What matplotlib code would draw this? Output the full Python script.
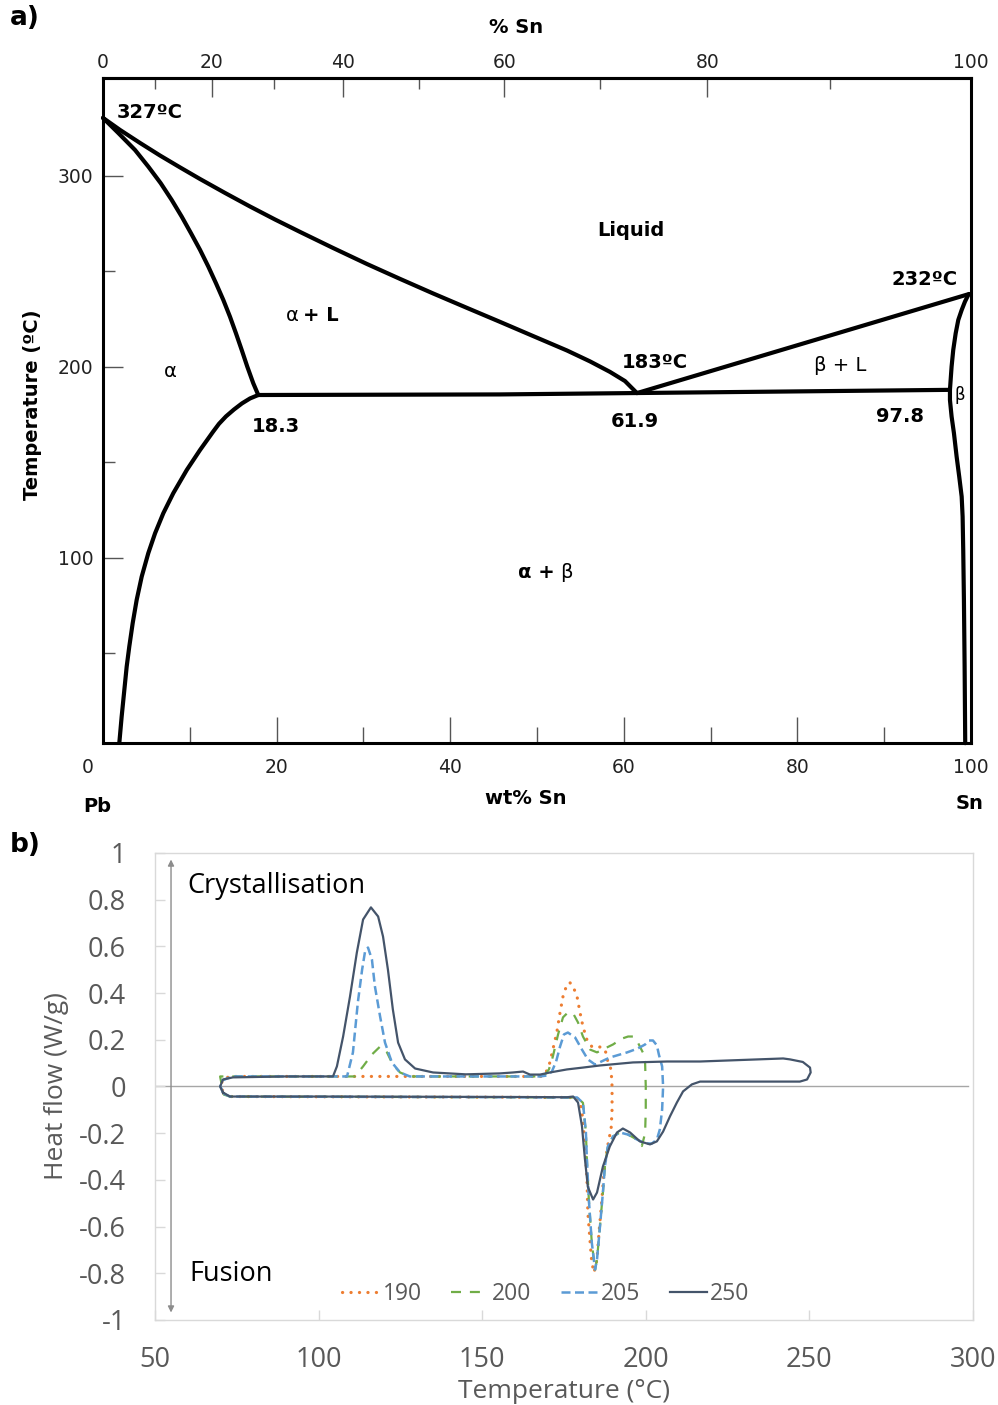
import numpy as np
import matplotlib.pyplot as plt
from matplotlib.ticker import FixedLocator

# ---------------- a) Pb-Sn phase diagram (wt% Sn, temperature in C) ----------------
liq_pb_wt = [0.0, 1.96, 4.26, 6.57, 8.87, 11.18, 14.06, 16.94, 19.82, 22.70, 26.50, 30.41,
             34.22, 38.02, 41.94, 45.74, 49.54, 53.46, 56.11, 58.41, 60.14, 61.52]
liq_pb_T = [330.4, 324.1, 317.3, 310.7, 304.5, 298.4, 291.1, 284.0, 277.2, 270.7, 262.3, 253.9,
            246.1, 238.5, 230.9, 223.6, 216.2, 208.6, 202.9, 197.4, 192.6, 186.3]

sol_pb_wt = [0.0, 1.76, 3.69, 5.22, 6.65, 7.92, 9.07, 10.14, 11.18, 12.14, 13.02, 13.86,
             14.63, 15.32, 15.98, 16.62, 17.31, 17.89]
sol_pb_T = [330.4, 322.5, 313.6, 304.9, 296.2, 287.4, 278.7, 270.0, 261.3, 252.5, 243.8, 235.1,
            226.3, 217.6, 208.9, 200.2, 191.5, 185.3]

solv_pb_wt = [17.89, 16.94, 16.01, 15.09, 14.17, 13.36, 12.67, 11.18, 9.66, 8.10, 6.95, 6.0,
              5.22, 4.46, 3.88, 3.42, 3.03, 2.73, 2.42, 2.15, 1.88]
solv_pb_T = [185.3, 183.5, 180.9, 177.7, 174.1, 170.2, 166.0, 156.5, 146.1, 133.9, 123.4, 112.9,
             102.5, 90.2, 78.0, 65.8, 53.6, 43.1, 29.1, 16.9, 3.1]

eut_wt = [17.89, 45.7, 97.58]
eut_T = [185.3, 185.6, 188.0]

liq_sn_wt = [61.52, 99.8]
liq_sn_T = [186.3, 238.2]

sol_sn_wt = [99.8, 99.69, 99.31, 98.93, 98.54, 98.24, 97.96, 97.77, 97.66, 97.58]
sol_sn_T = [238.2, 237.7, 234.2, 229.8, 224.6, 217.6, 208.9, 200.2, 193.2, 188.0]

solv_sn_wt = [97.58, 97.58, 97.77, 98.04, 98.35, 98.65, 98.93, 99.04, 99.11, 99.19, 99.27, 99.34]
solv_sn_T = [188.0, 182.7, 174.0, 165.3, 153.0, 142.5, 132.1, 121.6, 104.2, 78.0, 43.1, 3.0]

wt_major = [20, 40, 60, 80, 100]
wt_minor = [10, 30, 50, 70, 90]
at_major = [0, 20, 40, 60, 80, 100]
at_minor = [10, 30, 50, 70, 90]
T_major = [100, 200, 300]
T_minor = [50, 150, 250]

# ---------------- b) DSC loops (temperature C, heat flow W/g) ----------------
T_190 = [71.0, 72.9, 100, 130, 160, 176, 179.0, 179.9, 180.8, 181.4, 182.0, 182.3, 183.0,
         183.5, 184.2, 185.1, 185.7, 186.6, 187.2, 188.1, 188.7, 189.4, 189.7, 189.7, 189.4,
         188.4, 187.8, 186.9, 185.1, 183.5, 182.0, 180.8, 179.9, 179.0, 177.8, 176.8, 175.9,
         174.7, 173.8, 172.8, 171.6, 170.7, 169.5, 168.3, 150, 120, 95, 72.9, 70.6, 70.2, 71.0]
hf_190 = [-0.030, -0.043, -0.044, -0.045, -0.046, -0.047, -0.048, -0.064, -0.141, -0.257,
          -0.385, -0.540, -0.668, -0.754, -0.797, -0.740, -0.625, -0.484, -0.368, -0.278,
          -0.227, -0.184, -0.099, 0.0, 0.073, 0.107, 0.146, 0.167, 0.171, 0.171, 0.201,
          0.257, 0.317, 0.385, 0.428, 0.445, 0.437, 0.385, 0.317, 0.231, 0.158, 0.103, 0.060,
          0.043, 0.043, 0.043, 0.043, 0.043, 0.030, 0.0, -0.030]

T_200 = [70.9, 72.9, 100, 130, 160, 176, 179.0, 180.8, 181.7, 182.0, 182.6, 183.5, 184.5,
         185.1, 186.0, 186.9, 187.5, 188.4, 190.0, 192.1, 194.6, 197.3, 198.8, 199.8, 200.0,
         200.0, 199.8, 199.1, 197.6, 196.1, 194.6, 192.7, 190.0, 187.5, 185.1, 183.0, 180.8,
         179.3, 177.8, 176.2, 174.7, 173.2, 171.6, 170.4, 169.2, 167.7, 150, 127.9, 124.9,
         122.7, 120.9, 118.8, 116.3, 113.6, 111.1, 95, 73.8, 69.9, 70.5, 70.9]
hf_200 = [-0.034, -0.043, -0.044, -0.045, -0.046, -0.047, -0.047, -0.070, -0.197, -0.310,
          -0.484, -0.668, -0.784, -0.740, -0.600, -0.454, -0.343, -0.257, -0.214, -0.197,
          -0.206, -0.227, -0.255, -0.200, -0.100, 0.0, 0.100, 0.146, 0.188, 0.214, 0.214,
          0.205, 0.180, 0.163, 0.146, 0.158, 0.214, 0.274, 0.313, 0.317, 0.296, 0.223, 0.128,
          0.073, 0.051, 0.043, 0.043, 0.043, 0.060, 0.094, 0.146, 0.171, 0.137, 0.086, 0.043,
          0.043, 0.043, 0.043, 0.0, -0.034]

T_205 = [70.9, 72.9, 100, 130, 160, 176, 179.0, 180.8, 181.7, 182.0, 182.6, 183.5, 184.5,
         185.1, 186.0, 186.9, 187.5, 188.4, 190.0, 192.1, 194.6, 197.3, 199.8, 201.9, 203.4,
         204.3, 205.0, 205.3, 205.0, 204.0, 203.4, 202.2, 201.0, 199.8, 197.6, 194.3, 189.0,
         184.5, 182.3, 180.5, 178.4, 176.2, 175.0, 173.8, 172.6, 171.3, 169.8, 167.7, 150,
         127.9, 124.9, 122.4, 120.3, 118.8, 117.2, 116.3, 115.1, 114.2, 113.3, 112.0, 110.5,
         108.7, 95, 73.8, 70.3, 70.0, 70.9]
hf_205 = [-0.030, -0.043, -0.044, -0.045, -0.046, -0.047, -0.047, -0.070, -0.197, -0.310,
          -0.484, -0.668, -0.784, -0.740, -0.600, -0.454, -0.343, -0.257, -0.214, -0.197,
          -0.206, -0.227, -0.244, -0.244, -0.227, -0.184, -0.099, 0.0, 0.086, 0.137, 0.176,
          0.197, 0.197, 0.180, 0.163, 0.146, 0.124, 0.094, 0.116, 0.158, 0.210, 0.231, 0.223,
          0.171, 0.107, 0.064, 0.047, 0.043, 0.043, 0.043, 0.060, 0.103, 0.188, 0.300, 0.430,
          0.544, 0.595, 0.578, 0.500, 0.360, 0.146, 0.043, 0.043, 0.043, 0.025, 0.0, -0.030]

T_250 = [70.8, 72.9, 100, 130, 160, 176, 177.8, 179.3, 180.5, 181.4, 182.3, 183.9, 185.1,
         186.9, 189.0, 191.2, 193.0, 195.2, 198.2, 201.3, 203.4, 205.3, 207.4, 209.5, 211.4,
         214.1, 216.6, 230, 247.1, 249.3, 250.4, 250.2, 248.0, 244.1, 242.0, 216.6, 206.5,
         196.1, 186.0, 180.8, 175.9, 170.7, 167.7, 164.6, 162.5, 159.4, 155.4, 145, 135.0,
         129.5, 126.4, 124.3, 122.7, 121.2, 119.7, 118.2, 116.0, 113.6, 111.7, 109.6, 107.5,
         105.6, 104.4, 90, 73.8, 70.8, 69.9, 70.8]
hf_250 = [-0.026, -0.043, -0.043, -0.044, -0.045, -0.046, -0.043, -0.069, -0.170, -0.310,
          -0.430, -0.484, -0.454, -0.343, -0.257, -0.197, -0.180, -0.197, -0.235, -0.248,
          -0.235, -0.193, -0.128, -0.069, -0.021, 0.009, 0.021, 0.021, 0.021, 0.030, 0.060,
          0.081, 0.105, 0.116, 0.120, 0.107, 0.107, 0.103, 0.090, 0.081, 0.073, 0.060, 0.051,
          0.051, 0.064, 0.060, 0.056, 0.052, 0.060, 0.077, 0.116, 0.188, 0.330, 0.500, 0.642,
          0.728, 0.767, 0.715, 0.574, 0.385, 0.214, 0.086, 0.043, 0.043, 0.039, 0.030, 0.0,
          -0.026]

dsc_labels = ['190', '200', '205', '250']
dsc_colors = ['#ED7D31', '#70AD47', '#5B9BD5', '#44546A']
dsc_T = [T_190, T_200, T_205, T_250]
dsc_hf = [hf_190, hf_200, hf_205, hf_250]
dsc_styles = [(0, (0.05, 2.6)), (0, (4.5, 4)), (0, (3.6, 1.8)), '-']
dsc_widths = [2.3, 1.6, 1.8, 1.6]

hf_ticks = [-1, -0.8, -0.6, -0.4, -0.2, 0, 0.2, 0.4, 0.6, 0.8, 1]
hf_ticklabels = ['-1', '-0.8', '-0.6', '-0.4', '-0.2', '0', '0.2', '0.4', '0.6', '0.8', '1']
temp_ticks = [50, 100, 150, 200, 250, 300]


def wt2at(w):
    w = np.asarray(w, dtype=float)
    s = w / 118.71
    return 100 * s / (s + (100 - w) / 207.2)


def at2wt(a):
    a = np.asarray(a, dtype=float)
    return 100 * a * 118.71 / (a * 118.71 + (100 - a) * 207.2)


fig = plt.figure(figsize=(9.98, 14.05), dpi=100)

# ---------------- panel a ----------------
ax = fig.add_axes([0.1032, 0.4712, 0.8697, 0.4733])
lw = 3.0
for xs, ys in [(liq_pb_wt, liq_pb_T), (sol_pb_wt, sol_pb_T), (solv_pb_wt, solv_pb_T),
               (eut_wt, eut_T), (liq_sn_wt, liq_sn_T), (sol_sn_wt, sol_sn_T),
               (solv_sn_wt, solv_sn_T)]:
    ax.plot(xs, ys, color='black', lw=lw, solid_capstyle='round', solid_joinstyle='round',
            clip_on=False)
ax.set_xlim(0, 100)
ax.set_ylim(3.1, 351.3)
for sp in ax.spines.values():
    sp.set_linewidth(2.2)

ax.xaxis.set_major_locator(FixedLocator(wt_major))
ax.xaxis.set_minor_locator(FixedLocator(wt_minor))
ax.set_xticklabels([str(v) for v in wt_major])
ax.yaxis.set_major_locator(FixedLocator(T_major))
ax.yaxis.set_minor_locator(FixedLocator(T_minor))
ax.set_yticklabels([str(v) for v in T_major])
ax.tick_params(axis='x', which='major', direction='in', length=19, width=1.0, color='#555555',
               labelsize=13.5, pad=11, labelcolor='#222222')
ax.tick_params(axis='x', which='minor', direction='in', length=11.5, width=1.0, color='#555555')
ax.tick_params(axis='y', which='major', direction='in', length=14.5, width=1.0, color='#555555',
               labelsize=13.5, pad=7, labelcolor='#222222')
ax.tick_params(axis='y', which='minor', direction='in', length=8.6, width=1.0, color='#555555')

top = ax.secondary_xaxis('top', functions=(wt2at, at2wt))
top.set_xticks(at_major)
top.set_xticklabels([str(v) for v in at_major])
top.xaxis.set_minor_locator(FixedLocator(at_minor))
top.tick_params(axis='x', which='major', direction='in', length=14, width=1.0, color='#555555',
                labelsize=13.5, pad=4.5, labelcolor='#222222')
top.tick_params(axis='x', which='minor', direction='in', length=8, width=1.0, color='#555555')
top.spines['top'].set_linewidth(2.2)

bold = dict(fontsize=14, fontweight='bold', color='black')
reg = dict(fontsize=14, color='black')
ax.text(1.6, 333.0, '327ºC', ha='left', va='center', **bold)
ax.text(60.8, 271.2, 'Liquid', ha='center', va='center', **bold)
ax.text(94.6, 246.0, '232ºC', ha='center', va='center', **bold)
ax.text(21.8, 226.7, 'α', ha='center', va='center', **reg)
ax.text(23.0, 226.7, '+ L', ha='left', va='center', **bold)
ax.text(7.8, 197.4, 'α', ha='center', va='center', **reg)
ax.text(63.6, 202.1, '183ºC', ha='center', va='center', **bold)
ax.text(84.9, 200.5, 'β + L', ha='center', va='center', **reg)
ax.text(98.7, 185.3, 'β', ha='center', va='center', fontsize=12)
ax.text(19.9, 168.6, '18.3', ha='center', va='center', **bold)
ax.text(61.3, 171.2, '61.9', ha='center', va='center', **bold)
ax.text(91.8, 174.3, '97.8', ha='center', va='center', **bold)
ax.text(52.0, 92.2, 'α +', ha='right', va='center', **bold)
ax.text(52.7, 92.2, 'β', ha='left', va='center', **reg)
ax.text(-1.8, -10.0, '0', ha='center', va='center', fontsize=13.5, color='#222222', clip_on=False)
ax.text(-0.7, -30.4, 'Pb', ha='center', va='center', clip_on=False, **bold)
ax.text(99.8, -28.8, 'Sn', ha='center', va='center', clip_on=False, **bold)
ax.text(48.7, -26.2, 'wt% Sn', ha='center', va='center', clip_on=False, **bold)
ax.text(47.6, 377.5, '% Sn', ha='center', va='center', clip_on=False, **bold)
ax.text(-8.1, 180.0, 'Temperature (ºC)', rotation=90, ha='center', va='center',
        clip_on=False, **bold)

fig.text(10 / 998, 1 - 18 / 1405, 'a)', ha='left', va='center', fontsize=19, fontweight='bold')
fig.text(10 / 998, 1 - 845 / 1405, 'b)', ha='left', va='center', fontsize=19, fontweight='bold')

# ---------------- panel b ----------------
bx = fig.add_axes([0.1553, 0.0605, 0.8196, 0.3324])
grey = '#595959'
bx.axhline(0, xmin=0, xmax=0.994, color='#A6A6A6', lw=1.0, zorder=1)
for xs, ys, lab, col, ls, w in zip(dsc_T, dsc_hf, dsc_labels, dsc_colors, dsc_styles, dsc_widths):
    bx.plot(xs, ys, color=col, ls=ls, lw=w, label=lab, solid_joinstyle='round',
            dash_capstyle='round' if lab == '190' else 'butt', zorder=3)
bx.set_xlim(50, 300)
bx.set_ylim(-1, 1)
for sp in bx.spines.values():
    sp.set_color('#D9D9D9')
    sp.set_linewidth(1.0)
bx.set_xticks(temp_ticks)
bx.set_xticklabels([str(v) for v in temp_ticks], fontfamily='Open Sans')
bx.set_yticks(hf_ticks)
bx.set_yticklabels(hf_ticklabels, fontfamily='Open Sans')
bx.tick_params(axis='both', direction='in', length=7, width=1.0, color='#D9D9D9',
               labelcolor=grey, labelsize=19.5)
bx.tick_params(axis='x', pad=19)
bx.tick_params(axis='y', pad=21)
bx.set_xlabel('Temperature (°C)', fontfamily='Open Sans', fontsize=19, color=grey, labelpad=3)
bx.set_ylabel('Heat flow (W/g)', fontfamily='Open Sans', fontsize=19, color=grey, labelpad=7)

bx.annotate('', xy=(54.9, -0.968), xytext=(54.9, 0.972),
            arrowprops=dict(arrowstyle='<|-|>', color='#8C8C8C', lw=1.0,
                            mutation_scale=9, shrinkA=0, shrinkB=0))
bx.text(59.8, 0.857, 'Crystallisation', ha='left', va='center', fontsize=19.5,
        fontfamily='Open Sans', color='black')
bx.text(60.4, -0.805, 'Fusion', ha='left', va='center', fontsize=19.5,
        fontfamily='Open Sans', color='black')

leg = bx.legend(loc='center', bbox_to_anchor=(0.478, 0.056), ncol=4, frameon=False,
                prop={'family': 'Open Sans', 'size': 16.5}, handlelength=1.6,
                handletextpad=0.15, columnspacing=1.3, borderpad=0)
for t in leg.get_texts():
    t.set_color(grey)

fig.savefig('out.png', dpi=100, facecolor='white')
